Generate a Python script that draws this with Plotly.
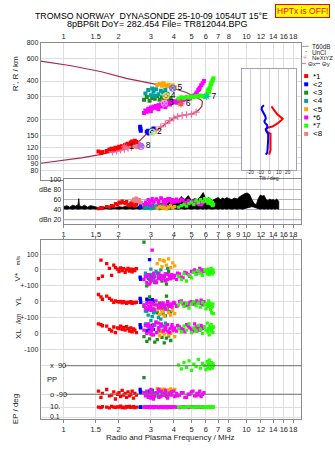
import math
import plotly.graph_objects as go

# ---------------- data ----------------
top_ticks = [1, 1.5, 2, 3, 4, 5, 6, 7, 8, 10, 12, 14, 16, 18]
top_tick_text = ['1', '1.5', '2', '3', '4', '5', '6', '7', '8', '10', '12', '14', '16', '18']
mid_ticks = [1, 1.5, 2, 3, 4, 5, 6, 7, 8, 9, 10, 12, 14, 16, 18]
mid_tick_text = ['1', '1.5', '2', '3', '4', '5', '6', '7', '8', '9', '10', '12', '14', '16', '18']
height_ticks = [80, 90, 100, 120, 150, 200, 300, 400, 600, 800]
db_ticks = [20, 40, 60, 80, 100]
db_tick_text = ['dBn 20', '40', '60', 'dBe 80', '100']
tilt_ticks = [-20, -10, 0, 10, 20]
tilt_tick_text = ['-20', '-10', '0', '10', '20']

# profile / trace curve (frequency MHz, height km)
curve_f = [0.75, 1.0, 1.25, 1.61, 1.94, 2.2, 2.44, 2.65, 2.88, 3.27, 3.86, 4.01, 4.27, 4.66, 5.07, 5.48,
           5.69, 5.74, 5.62, 5.15, 4.66, 4.11, 3.63, 3.01, 2.2, 1.61, 1.1, 0.75]
curve_h = [90.7, 95.5, 100, 106.5, 113, 118, 124, 139, 157, 167, 199, 205, 213, 218, 221, 237,
           253, 277, 285, 304, 327, 345, 364, 384, 420, 473, 527, 573]
nx_f = [1.85, 1.95, 2.05, 2.15, 2.25, 2.35, 2.9, 3.05, 3.2, 3.4, 3.6, 3.8, 4.0, 4.2, 4.45, 4.7, 5.0, 5.3]
nx_h = [111, 113, 115, 117, 119, 121, 158, 162, 165, 175, 185, 196, 205, 211, 215, 218, 220, 228]

# echo clusters
red_f = [1.55, 1.60, 1.63, 1.72, 1.78, 1.83, 1.88, 1.92, 1.97, 2.01, 2.05, 2.09, 2.13, 2.17, 2.21, 2.25,
         2.29, 2.33, 2.37, 2.41, 2.45, 2.50]
red_h = [112, 109, 111, 113, 116, 118, 117, 120, 119, 122, 121, 124, 123, 126, 127, 129, 128, 132, 134, 131, 136, 133]
red_v = [-55, 62, -40, 40, 10, -35, 30, 15, 5, -10, 12, -5, 8, -15, 0, 10, -8, 5, -12, 3, -5, 8]
red_yl = [45, 30, 15, 35, 20, 10, -5, 5, 0, -3, 2, -8, 0, -5, -10, -3, -6, 0, -10, -5, -8, -4]
red_xl = [60, 55, 48, 45, 25, 15, 40, 5, 35, 30, 45, 25, 38, 20, 42, 30, 15, 35, 10, 28, 20, 5]
red_pp = [-70, -110, -85, -60, -100, -95, -75, -120, -90, -80, -105, -65, -95, -85, -110, -75, -100, -90, -70, -115, -85, -95]
red_ep = [10, 8, 12, 10, 7, 14, 10, 9, 11, 10, 15, 8, 10, 7, 12, 10, 14, 9, 10, 12, 8, 10]
red_amp = [42, 44, 43, 46, 45, 48, 47, 52, 50, 55, 53, 57, 54, 52, 56, 50, 48, 53, 51, 49, 47, 50]

sal_f = [2.38, 2.42, 2.46, 2.50, 2.54, 2.58, 2.62, 2.45, 2.55, 2.65]
sal_h = [126, 128, 124, 130, 127, 129, 125, 122, 121, 123]
sal_amp = [55, 60, 58, 62, 57, 59, 54, 52, 56, 53]

blue_f = [2.62, 2.63, 2.64, 2.85, 2.9, 2.95, 3.0, 3.05, 3.1, 2.92]
blue_h = [175, 168, 163, 160, 163, 158, 162, 166, 170, 156]
blue_v = [-45, -55, -60, -40, -50, 65, -35, -45, -30, -50]
blue_yl = [20, 10, -5, 15, 0, 5, -8, 12, 2, 8]
blue_xl = [55, 40, 35, 15, 45, 20, 30, 50, 25, 10]
blue_pp = [-60, -80, -75, -90, -85, -70, -95, -65, -88, -78]
blue_ep = [10, 9, 11, 10, 12, 9, 10, 11, 8, 10]
blue_amp = [45, 47, 44, 50, 46, 48, 43, 49, 45, 47]

dg_f = [2.75, 2.85, 2.95, 3.05, 3.15, 3.25, 3.35, 3.45, 3.55, 3.65, 3.75, 3.85]
dg_h = [285, 300, 280, 295, 290, 305, 285, 298, 292, 300, 288, 295]
dg_v = [175, -100, -60, -30, -80, -20, -50, -70, -40, -90, -10, -55]
dg_yl = [-30, -60, 30, -45, -20, -70, -10, -50, -35, 35, -25, -65]
dg_xl = [-20, -50, -35, -10, -55, -40, 15, -25, -60, -30, -15, -45]
dg_pp = [15, -80, -95, -70, -100, -85, -60, -90, -75, -105, -88, -65]
dg_ep = [10, 11, 9, 10, 12, 10, 9, 11, 10, 8, 10, 12]
dg_amp = [44, 46, 43, 48, 45, 47, 42, 49, 44, 46, 43, 45]

teal_f = [2.8, 2.9, 3.0, 3.05, 3.1, 3.2, 3.3, 3.4, 3.5, 3.6, 3.7, 3.15]
teal_h = [320, 340, 310, 350, 330, 345, 315, 335, 325, 340, 318, 305]
teal_v = [-20, -45, 5, -30, -60, -10, -35, 0, -50, -25, 10, -40]
teal_yl = [-60, -85, -40, -95, -70, -55, -100, -30, -75, -90, -50, -65]
teal_xl = [60, 40, 80, 25, 55, 70, 35, 90, 45, 65, 20, 50]
teal_pp = [-85, -95, -75, -100, -90, -80, -105, -70, -92, -88, -78, -98]
teal_ep = [10, 9, 11, 10, 12, 10, 9, 11, 10, 10, 8, 11]
teal_amp = [43, 45, 42, 47, 44, 46, 43, 48, 44, 45, 42, 46]

or_f = [3.25, 3.35, 3.45, 3.55, 3.65, 3.75, 3.85, 3.95, 4.05, 3.5]
or_h = [372, 380, 368, 378, 365, 374, 360, 370, 358, 385]
or_v = [40, 65, 20, 55, 30, 70, 15, 45, 25, 60]
or_yl = [-50, -80, -60, -90, -45, -70, -85, -55, -75, -65]
or_xl = [5, -15, 10, -5, 20, -10, 0, 15, -20, 8]
or_pp = [-55, -65, -60, -58, -70, -62, -56, -68, -60, -64]
or_ep = [10, 11, 9, 10, 12, 10, 9, 11, 10, 10]
or_amp = [43, 46, 44, 47, 42, 45, 48, 44, 46, 43]

mag_f = [2.75, 2.8, 2.85, 2.9, 2.95, 3.0, 3.05, 3.1, 3.2, 3.3, 3.4, 3.5, 3.6, 3.7, 3.8, 3.9, 4.0, 4.2, 4.4,
         4.6, 4.8, 5.0, 5.2, 5.35, 5.45, 5.55, 5.65, 5.75, 5.85, 3.0, 3.3, 3.6,
         2.92, 3.02, 3.12, 3.22, 3.32, 3.42, 3.52, 3.62, 3.72, 3.82, 3.92, 4.05, 4.15, 4.3, 4.5, 4.7, 4.9, 5.1,
         5.3, 5.5]
mag_h = [225, 235, 230, 242, 238, 248, 245, 252, 255, 258, 262, 265, 268, 270, 272, 275, 278, 282, 286,
         290, 295, 300, 310, 325, 340, 355, 370, 385, 400, 232, 240, 250,
         236, 244, 250, 246, 256, 253, 262, 258, 266, 262, 270, 274, 270, 279, 283, 288, 292, 305,
         318, 345]
mag_v = [-60, -40, -80, -30, -90, -50, 125, -20, -70, -45, -35, -55, -25, -60, -40, -30, -50, -20, -45,
         -15, -30, -10, 0, -20, -5, 10, -15, 0, -10, -75, -55, -65,
         -35, -65, -45, -80, -20, -60, -40, -70, -30, -55, -45, -35, -60, -25, -50, -20, -40, -10,
         -25, -5]
mag_yl = [-20, -40, -10, -50, -5, -30, -15, -45, 5, -25, -35, -10, -20, 0, -30, -15, -5, -25, 5,
          -10, -20, 0, -15, 5, -5, -10, 10, -20, 0, -55, -35, -45,
          -30, -5, -50, -20, -40, -10, -25, -45, -5, -20, -35, -10, -30, 0, -15, -25, -5, -15,
          0, -10]
mag_xl = [20, 50, 0, 60, 10, 40, 30, -10, 70, 25, 45, 15, 35, 55, 5, 40, 20, 50, 30,
          10, 45, 25, 60, 15, 35, 20, 50, 30, 40, -5, 65, 25,
          45, 15, 55, 5, 35, 60, 20, 45, 10, 30, 55, 35, 15, 40, 25, 55, 35, 15,
          40, 30]
mag_pp = [-80, -100, -70, -110, -90, -60, -95, -120, -85, -75, -105, -90, -65, -115, -85, -95, -70, -100, -80,
          -110, -90, -75, -100, -85, -95, -70, -105, -90, -80, -115, -60, -95,
          -95, -75, -105, -85, -110, -70, -95, -80, -100, -90, -75, -105, -85, -95, -80, -110, -90, -70,
          -100, -85]
mag_ep = [10, 12, 9, 11, 8, 13, 10, 9, 11, 10, 12, 8, 10, 11, 9, 10, 13, 9, 11,
          10, 8, 12, 10, 9, 11, 10, 12, 9, 10, 11, 9, 10,
          9, 11, 10, 12, 8, 10, 11, 9, 12, 10, 9, 11, 10, 8, 12, 10, 9, 11,
          10, 12]
mag_amp = [50, 55, 52, 60, 54, 58, 62, 56, 61, 57, 63, 55, 60, 58, 62, 54, 59, 56, 61,
           53, 58, 55, 57, 52, 56, 54, 50, 53, 55, 48, 52, 51,
           52, 58, 55, 61, 57, 63, 59, 56, 62, 58, 60, 55, 61, 57, 59, 54, 56, 52,
           55, 50]

grn_f = [4.25, 4.4, 4.55, 4.7, 4.85, 5.0, 5.15, 5.3, 5.45, 5.6, 5.75, 5.9, 6.0, 6.1, 6.15, 6.2, 6.25, 6.3,
         6.35, 6.4, 6.45, 6.5, 6.55, 6.6]
grn_h = [292, 298, 295, 300, 297, 302, 300, 306, 303, 308, 305, 300, 310, 320, 335, 345, 330, 355,
         370, 380, 390, 400, 410, 420]
grn_v = [-40, -60, -25, -70, -35, -50, -15, -30, -5, -20, -35, 0, -10, -25, 5, -15, -30, -5,
         -20, 10, -10, -25, 0, -15]
grn_yl = [-20, -5, -30, -10, -40, -15, 0, -25, -10, -35, -5, -20, -45, -15, -30, 5, -25, -10,
          -50, -20, -70, -35, -15, -75]
grn_xl = [30, 10, 45, 20, 60, 5, 35, 15, 50, 25, 0, 40, 20, 65, 10, 30, -10, 45,
          25, 55, 15, 35, 5, 40]
grn_pp = [95, 70, 110, 80, 120, 60, 100, 85, 130, 75, 105, 90, 65, 115, 80, 100, 125, 70,
          95, 110, 85, 75, 105, 90]
grn_ep = [10, 11, 9, 10, 12, 10, 9, 11, 10, 13, 10, 8, 11, 10, 9, 12, 10, 11, 9, 10, 12, 10, 9, 11]
grn_amp = [45, 48, 50, 47, 52, 55, 50, 58, 54, 60, 56, 62, 57, 59, 53, 61, 55, 58,
           52, 56, 50, 54, 48, 51]

# cluster centres (label, freq, height)
ctr_lab = ['1', '2', '3', '4', '5', '6', '7', '8']
ctr_f = [2.15, 3.05, 3.55, 3.63, 3.95, 4.38, 6.06, 2.65]
ctr_h = [122, 159, 268, 306, 351, 265, 303, 123]
ctr_star = [True, False, False, False, False, True, True, False]

# tilt inset (height km, degrees)
tx_h = [253, 246, 238, 230, 220, 210, 202, 194, 185, 176, 172, 165, 159, 154, 140, 127, 115, 106]
tx_d = [2, 3, 4.5, 6, 8, 11, 14, 11.5, 8, 3, -2.5, -4, -2, 1, 1, 1.5, 1, -0.5]
ty_h = [258, 250, 240, 230, 222, 212, 202, 194, 188, 180, 172, 168, 160, 154, 140, 130, 120, 110, 106]
ty_d = [-6, -8, -8.5, -7, -6, -4.5, -4, -5.5, -5, -2.5, -2.5, -4, -3, -1.5, -1.5, -1.5, -2, -2.5, -4]

# background amplitude (dB) vs frequency
bk_f = [1.0, 1.04, 1.08, 1.12, 1.16, 1.2, 1.21, 1.22, 1.26, 1.3, 1.35, 1.4, 1.45, 1.5, 1.55, 1.6, 1.7, 1.8, 1.9, 2.0,
        2.1, 2.2, 2.3, 2.4, 2.5, 2.6, 2.7, 2.8, 2.9, 3.0, 3.2, 3.4, 3.6, 3.8, 4.0, 4.2, 4.4, 4.6, 4.8, 5.0,
        5.2, 5.4, 5.6, 5.8, 5.9, 6.0, 6.2, 6.5, 6.8, 7.0, 7.2, 7.4, 7.6, 7.8, 8.0, 8.3, 8.6, 8.9, 9.2, 9.5,
        9.8, 10.1, 10.4, 10.7, 11.0, 11.3, 11.6, 11.9, 12.2, 12.5, 12.8, 13.1, 13.4, 13.7, 14.0, 14.3, 14.6, 15.0]
bk_top = [46, 48, 45, 49, 47, 50, 62, 48, 46, 49, 45, 48, 47, 46, 44, 46, 45, 47, 44, 46,
          45, 47, 46, 48, 45, 47, 46, 48, 47, 50, 49, 52, 51, 55, 58, 56, 66, 60, 68, 58,
          62, 60, 66, 74, 65, 60, 64, 58, 62, 64, 60, 63, 61, 64, 62, 60, 63, 61, 66, 70,
          72, 73, 70, 60, 52, 50, 62, 69, 67, 68, 60, 58, 61, 59, 60, 58, 61, 57]
bk_bot = [42, 41, 42, 41, 42, 41, 42, 41, 42, 41, 42, 41, 42, 41, 42, 41, 42, 41, 42, 41,
          42, 41, 42, 41, 42, 41, 42, 41, 42, 41, 42, 41, 42, 41, 42, 41, 42, 41, 42, 41,
          42, 41, 42, 41, 42, 41, 42, 41, 42, 41, 42, 41, 42, 41, 42, 41, 42, 41, 42, 41,
          42, 43, 45, 46, 45, 44, 42, 41, 42, 41, 42, 41, 42, 41, 42, 41, 42, 41]

legend_labels = ['*1', '<2', '<3', '<4', '<5', '*6', '*7', '<8']
legend_colors = ['#ff0000', '#0000ff', '#1e8c1e', '#00a0a0', '#ffa500', '#ff00ff', '#22ff00', '#f08080']

# ---------------- layout helpers ----------------
W, H = 335, 451
def px(x):
    return x / W
def py(y):
    return 1 - y / H

# stacked lower-panel offsets (axis units, 0.16 px per unit)
V_OFF, YL_OFF, XL_OFF, PP_OFF = 0, -200, -400, -694
EP_BASE, EP_SCALE = -927.5, 31.25
def ep_pos(v):
    return EP_BASE + (math.log10(v) + 1) * EP_SCALE

FONT = 'Liberation Sans, Arial, sans-serif'
TXT = '#222'
GRID = '#dedede'
FRAME = '#8a8a8a'

fig = go.Figure()

# profile curve
fig.add_trace(go.Scatter(x=curve_f, y=curve_h, mode='lines', line=dict(color='#a8294f', width=1.2),
                         xaxis='x', yaxis='y', hoverinfo='skip'))
fig.add_trace(go.Scatter(x=nx_f, y=nx_h, mode='markers',
                         marker=dict(symbol='cross-thin', size=5, line=dict(color='#f06a9a', width=1.2)),
                         xaxis='x', yaxis='y'))

clusters = [
    (red_f, red_h, red_v, red_yl, red_xl, red_pp, red_ep, red_amp, '#ff0000'),
    (blue_f, blue_h, blue_v, blue_yl, blue_xl, blue_pp, blue_ep, blue_amp, '#0000ff'),
    (dg_f, dg_h, dg_v, dg_yl, dg_xl, dg_pp, dg_ep, dg_amp, '#1e8c1e'),
    (teal_f, teal_h, teal_v, teal_yl, teal_xl, teal_pp, teal_ep, teal_amp, '#00a0a0'),
    (or_f, or_h, or_v, or_yl, or_xl, or_pp, or_ep, or_amp, '#ffa500'),
    (mag_f, mag_h, mag_v, mag_yl, mag_xl, mag_pp, mag_ep, mag_amp, '#ff00ff'),
    (grn_f, grn_h, grn_v, grn_yl, grn_xl, grn_pp, grn_ep, grn_amp, '#22ff00'),
]

# background amplitude (black)
fig.add_trace(go.Scatter(x=bk_f + bk_f[::-1], y=bk_top + bk_bot[::-1], fill='toself', mode='lines',
                         line=dict(color='#000', width=0.8), fillcolor='#000', xaxis='x2', yaxis='y2'))

# salmon cluster (top + amplitude only)
fig.add_trace(go.Scatter(x=sal_f, y=sal_h, mode='markers', marker=dict(symbol='square', size=4, color='#f08080'),
                         xaxis='x', yaxis='y'))
fig.add_trace(go.Scatter(x=sal_f, y=sal_amp, mode='markers', marker=dict(symbol='square', size=4, color='#f08080'),
                         xaxis='x2', yaxis='y2'))

for f, h, v, yl, xl, pp, ep, amp, col in clusters:
    mk = dict(symbol='square', size=3.3, color=col)
    fig.add_trace(go.Scatter(x=f, y=h, mode='markers', marker=dict(symbol='square', size=4, color=col),
                             xaxis='x', yaxis='y'))
    fig.add_trace(go.Scatter(x=f, y=amp, mode='markers', marker=mk, xaxis='x2', yaxis='y2'))
    ylow = ([V_OFF + a for a in v] + [YL_OFF + a for a in yl] + [XL_OFF + a for a in xl]
            + [PP_OFF + a for a in pp] + [ep_pos(a) for a in ep])
    fig.add_trace(go.Scatter(x=f * 5, y=ylow, mode='markers', marker=mk, xaxis='x3', yaxis='y3'))

# cluster centre markers
for lab, f, h, star in zip(ctr_lab, ctr_f, ctr_h, ctr_star):
    fig.add_trace(go.Scatter(x=[f], y=[h], mode='markers+text', text=[lab], textposition='middle right',
                             textfont=dict(family=FONT, size=8.5, color='#000'),
                             marker=dict(symbol='asterisk-open' if star else 'circle-x-open', size=6,
                                         line=dict(color='#000', width=1.1)),
                             xaxis='x', yaxis='y'))

# tilt inset
fig.add_trace(go.Scatter(x=tx_d, y=tx_h, mode='lines', line=dict(color='#ff0000', width=2), xaxis='x4', yaxis='y4'))
fig.add_trace(go.Scatter(x=ty_d, y=ty_h, mode='lines', line=dict(color='#0000ff', width=2), xaxis='x4', yaxis='y4'))

axfont = dict(family=FONT, size=7.5, color=TXT)
hfont = dict(family=FONT, size=7, color=TXT)
low_tickvals = [100, 0, -100, -200, -300, -400, -500, PP_OFF + 90, PP_OFF - 90, ep_pos(10), ep_pos(0.1)]
low_ticktext = ['100', '0', '+-100', '0', '+-100', '0', '-100', '', '', '', '']

fig.update_layout(
    width=W, height=H, margin=dict(l=0, r=0, t=0, b=0), showlegend=False,
    paper_bgcolor='white', plot_bgcolor='white', font=dict(family=FONT, size=8, color=TXT),
    xaxis=dict(domain=[px(39), px(301)], type='log', range=[-0.125, 1.299], side='top', anchor='y',
               tickvals=top_ticks, ticktext=top_tick_text, tickfont=axfont, tickangle=0, showgrid=True,
               gridcolor=GRID, showline=True, mirror=True, linecolor=FRAME, ticks='', zeroline=False),
    yaxis=dict(domain=[py(178), py(39)], type='log', range=[math.log10(66.5), math.log10(800)], anchor='x',
               tickvals=height_ticks, tickfont=hfont, showgrid=True, gridcolor=GRID,
               showline=True, mirror=True, linecolor=FRAME, ticks=''),
    xaxis2=dict(domain=[px(62), px(301)], type='log', range=[0, 1.299], anchor='y2',
                tickvals=mid_ticks, ticktext=mid_tick_text, tickfont=axfont, tickangle=0, showgrid=True,
                gridcolor=GRID, showline=True, mirror=True, linecolor=FRAME, ticks='outside', ticklen=3,
                tickcolor=FRAME),
    yaxis2=dict(domain=[py(221.7), py(177)], range=[12.1, 100], anchor='x2',
                tickvals=db_ticks, ticktext=db_tick_text, tickfont=hfont, showgrid=True, gridcolor='#b4b4b4',
                showline=True, mirror=True, linecolor=FRAME, ticks='', zeroline=False),
    xaxis3=dict(domain=[px(39), px(301)], type='log', range=[-0.125, 1.299], anchor='y3',
                tickvals=top_ticks, ticktext=top_tick_text, tickfont=axfont, tickangle=0, showgrid=True,
                gridcolor=GRID, showline=True, mirror='ticks', linecolor=FRAME, ticks='outside', ticklen=3,
                tickcolor=FRAME),
    yaxis3=dict(domain=[py(418.3), py(238)], range=[-937.5, 189.4], anchor='x3',
                tickvals=low_tickvals, ticktext=low_ticktext, tickfont=hfont, showgrid=True, gridcolor=GRID,
                showline=True, mirror=True, linecolor=FRAME, ticks='', zeroline=False),
    xaxis4=dict(domain=[px(241.7), px(295.7)], range=[-29, 28], anchor='y4', showticklabels=False,
                tickvals=tilt_ticks, showgrid=True,
                gridcolor='#cfcfdf', showline=True, mirror=True, linecolor='#a0a0b8', ticks='', zeroline=False),
    yaxis4=dict(domain=[py(167.3), py(65.7)], type='log', range=[math.log10(80.5), math.log10(496)], anchor='x4',
                showticklabels=False, showgrid=False, showline=True, mirror=True, linecolor='#a0a0b8', ticks=''),
)

shapes = []
# dark PP reference lines
for yv in (PP_OFF + 90, PP_OFF - 90):
    shapes.append(dict(type='line', xref='paper', yref='y3', x0=px(63), x1=px(301), y0=yv, y1=yv,
                       line=dict(color='#707070', width=1)))
# lavender dBn line
shapes.append(dict(type='line', xref='paper', yref='y2', x0=px(62), x1=px(301), y0=20, y1=20,
                   line=dict(color='#b0b0e8', width=1)))
# legend swatches
shapes.append(dict(type='line', xref='paper', yref='paper', x0=px(302), x1=px(308.5), y0=py(42.7), y1=py(42.7),
                   line=dict(color='#999', width=1)))
shapes.append(dict(type='line', xref='paper', yref='paper', x0=px(301.5), x1=px(306), y0=py(60), y1=py(60),
                   line=dict(color='#f08080', width=1.2)))
shapes.append(dict(type='line', xref='paper', yref='paper', x0=px(315.5), x1=px(320), y0=py(60), y1=py(60),
                   line=dict(color='#6a6aff', width=1.2)))
leg_y = [72.7, 81, 89.5, 97.8, 106.1, 114.5, 122.8, 131.1]
for yy, col in zip(leg_y, legend_colors):
    shapes.append(dict(type='rect', xref='paper', yref='paper', x0=px(304), x1=px(308), y0=py(yy + 2), y1=py(yy - 2),
                       fillcolor=col, line=dict(width=0)))
fig.update_layout(shapes=shapes)

ann = []
def add_text(x, y, t, size=8, xanchor='center', color=TXT, angle=0, **kw):
    ann.append(dict(x=px(x), y=py(y), xref='paper', yref='paper', text=t, showarrow=False, xanchor=xanchor,
                    yanchor='middle', textangle=angle, font=dict(family=FONT, size=size, color=color), **kw))

add_text(150, 12, 'TROMSO NORWAY&nbsp;&nbsp;DYNASONDE 25-10-09 1054UT 15°E', size=8.8, color='#000')
add_text(156, 20.5, '8pBP6It DoY= 282.454 File= TR812044.BPG', size=9, color='#000')
ann.append(dict(x=px(302.5), y=py(7), xref='paper', yref='paper', text='HPTx is OFF!', showarrow=False,
                font=dict(family=FONT, size=8.5, color='#ff0000'), bgcolor='#ffff00', bordercolor='#ff0000',
                borderwidth=1, borderpad=1, xanchor='center', yanchor='middle'))
add_text(13, 70, "R', R / km", size=8, angle=-90)
add_text(170, 437.7, 'Radio and Plasma Frequency / MHz', size=8)
# inset tick labels and title
for tv, tt in zip(tilt_ticks, tilt_tick_text):
    ann.append(dict(x=tv, y=py(169.9), xref='x4', yref='paper', text=tt, showarrow=False, xanchor='center',
                    yanchor='middle', font=dict(family=FONT, size=4.8, color=TXT)))
add_text(268.7, 175.4, 'Tilt / deg', size=5.2)
# lower-panel band labels
add_text(16, 259, 'm/s', size=6, angle=-90)
add_text(16, 276, 'V*', size=8, angle=-90)
add_text(16, 300, 'YL', size=8, angle=-90)
add_text(16, 318, '/km', size=6.5, angle=-90)
add_text(16, 333, 'XL', size=8, angle=-90)
add_text(13, 408, 'EP / deg', size=8, angle=-90)
add_text(46, 365, 'x&nbsp;&nbsp;90', xanchor='left', size=7.5)
add_text(43, 379, 'PP', xanchor='left', size=7.5)
add_text(46, 393.5, 'o -90', xanchor='left', size=7.5)
add_text(46, 406.5, '10.', xanchor='left', size=7.5)
add_text(46, 416, '0.1', xanchor='left', size=7)
# legend text
add_text(309.5, 42.7, 'T60dB', xanchor='left', size=6.3)
add_text(306, 48.2, '·', xanchor='center', size=7, color='#000')
add_text(309.5, 48.7, 'UnCl', xanchor='left', size=6.3)
add_text(305, 54.3, '+', xanchor='center', size=7, color='#f06a9a')
add_text(309.5, 54.3, 'NeXtYZ', xanchor='left', size=6)
add_text(306, 60.2, 'Θx', xanchor='left', size=6)
add_text(320, 60.2, 'Θy', xanchor='left', size=6)
for yy, lab in zip(leg_y, legend_labels):
    add_text(311, yy, lab, xanchor='left', size=8, color='#000')
fig.update_layout(annotations=ann)

fig.write_html('out.html')
